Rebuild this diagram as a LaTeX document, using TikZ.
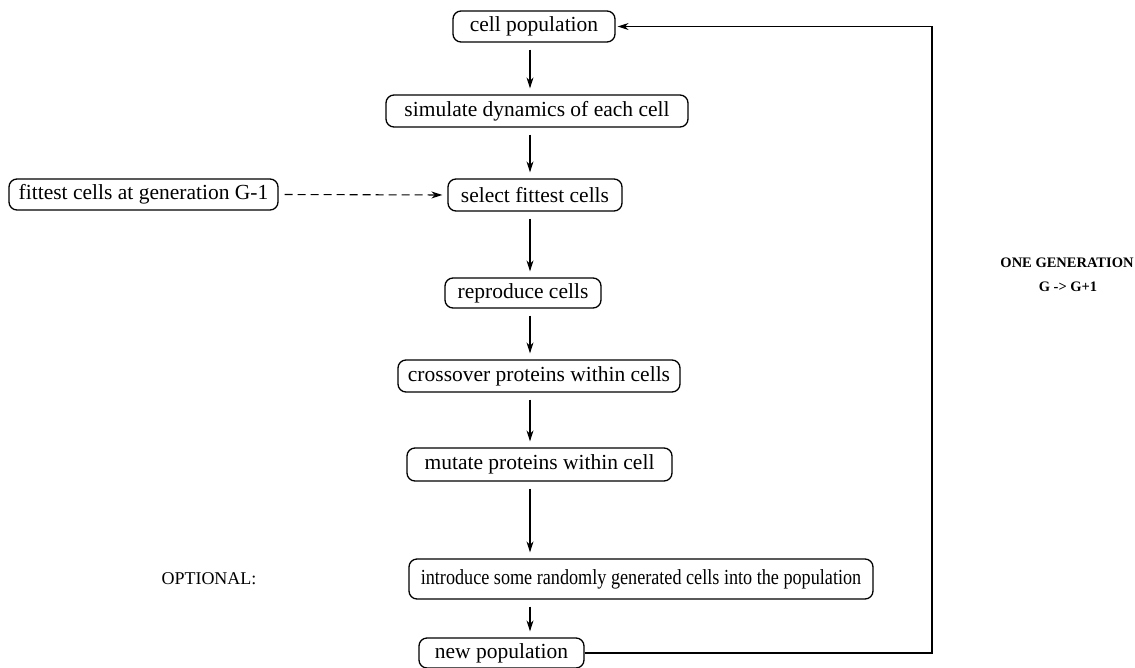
\documentclass[tikz,border=0pt]{standalone}
\usepackage{fontspec}
\setmainfont{Liberation Serif}
\usetikzlibrary{arrows.meta}
\begin{document}
\begin{tikzpicture}[x=1pt,y=-1pt,
  stage/.style={draw, line width=1.3pt, rounded corners=8pt, inner sep=0pt,
    font=\fontsize{21.5}{25}\selectfont},
  flow/.style={-{Stealth[length=11pt,width=7pt]}, line width=1.1pt,
    shorten <=7pt, shorten >=6pt},
  loop/.style={-{Stealth[length=11pt,width=7pt]}, line width=1.1pt, shorten >=2pt},
  note/.style={font=\fontsize{18}{22}\selectfont},
  banner/.style={font=\bfseries\fontsize{14.5}{18}\selectfont},
]
\useasboundingbox (0,0) rectangle (1135,667);

% main chain of stages
\node[stage, minimum width=162pt, minimum height=31pt] (pop)   at (534,26.5)   {cell population};
\node[stage, minimum width=302pt, minimum height=32pt] (sim)   at (537,111)    {simulate dynamics of each cell};
\node[stage, minimum width=174pt, minimum height=32pt] (sel)   at (535,195)    {select fittest cells};
\node[stage, minimum width=156pt, minimum height=30pt] (rep)   at (523,293)    {reproduce cells};
\node[stage, minimum width=282pt, minimum height=32pt] (cross) at (539,376)    {crossover proteins within cells};
\node[stage, minimum width=265pt, minimum height=33pt] (mut)   at (539.5,464.5){mutate proteins within cell};
\node[stage, minimum width=464pt, minimum height=40pt]
  (intro) at (641,579) {\scalebox{0.845}[1]{introduce some randomly generated cells into the population}};
\node[stage, minimum width=165pt, minimum height=30pt] (newp)  at (501.5,653)  {new population};

% side input
\node[stage, minimum width=269pt, minimum height=31pt] (fit)   at (143.5,194.5){fittest cells at generation G-1};

% labels
\node[note]   (opt)  at (209,579) {OPTIONAL:};
\node[banner] (gen1) at (1067,263) {ONE GENERATION};
\node[banner] (gen2) at (1068,287) {G -> G+1};

% vertical spine and loop column
\coordinate (spine) at (530,0);
\coordinate (loopx) at (932,0);

\draw[flow] (pop.south -| spine)   -- (sim.north -| spine);
\draw[flow] (sim.south -| spine)   -- (sel.north -| spine);
\draw[flow] (sel.south -| spine)   -- (rep.north -| spine);
\draw[flow] (rep.south -| spine)   -- (cross.north -| spine);
\draw[flow] (cross.south -| spine) -- (mut.north -| spine);
\draw[flow] (mut.south -| spine)   -- (intro.north -| spine);
\draw[flow] (intro.south -| spine) -- (newp.north -| spine);

\draw[flow, dash pattern=on 8pt off 5pt, shorten <=6pt, shorten >=5pt] (fit.east) -- (sel.west);

\draw[loop] (newp.east) -- (newp.east -| loopx) -- (pop.east -| loopx) -- (pop.east);
\end{tikzpicture}
\end{document}
